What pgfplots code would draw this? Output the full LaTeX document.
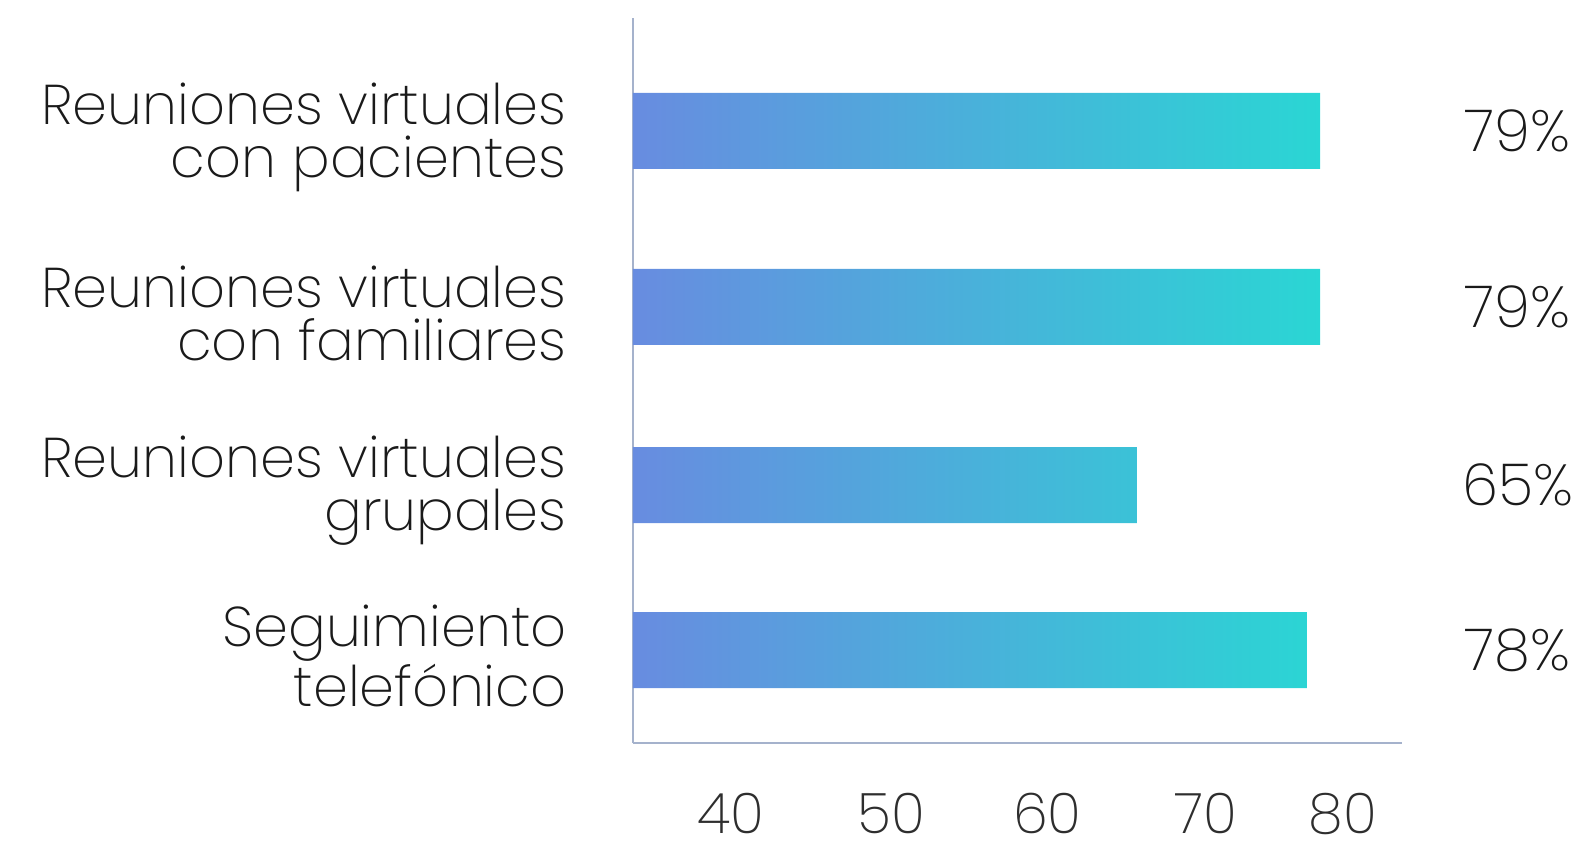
\documentclass[border=0pt]{standalone}
\usepackage{fontspec}
\setmainfont{Poppins}[UprightFont=* ExtraLight]
\usepackage{pgfplots}
\pgfplotsset{compat=1.18}
\definecolor{barleft}{HTML}{688CE0}
\definecolor{barright}{HTML}{2AD6D4}
\definecolor{axisgray}{HTML}{A5B2CC}
\definecolor{labeltext}{HTML}{1A1A1A}
\definecolor{ticktext}{HTML}{2E2E2E}

\begin{document}
\begin{tikzpicture}
\useasboundingbox (-316.5pt,-49pt) rectangle (475.5pt,371.5pt);
\begin{axis}[
  at={(0,0)}, anchor=south west,
  scale only axis,
  width=384.5pt, height=362.5pt,
  % shift the x axis so that bars start at the left edge
  x coord trafo/.code={\pgfmathparse{#1-26.51}},
  x coord inv trafo/.code={\pgfmathparse{#1+26.51}},
  xmin=26.51, xmax=85.26,
  ymin=0, ymax=7.25,
  axis x line*=bottom, axis y line*=left,
  axis line style={-, axisgray, line width=1pt},
  xtick={33.99,46.26,58.17,70.25,80.75},
  xticklabels={40,50,60,70,80},
  ytick={0.93,2.58,4.36,6.12},
  yticklabels={{Seguimiento\\telefónico},
               {Reuniones virtuales\\grupales},
               {Reuniones virtuales\\con familiares},
               {Reuniones virtuales\\con pacientes}},
  major tick length=0pt,
  xticklabel style={font=\fontsize{28}{28}\selectfont, text=ticktext,
    inner sep=0pt, anchor=north, yshift=-25pt},
  yticklabel style={font=\fontsize{28}{26.5}\selectfont, text=labeltext,
    align=right, inner sep=0pt, anchor=east, xshift=-33pt, yshift=-3pt},
  /pgf/number format/assume math mode=true,
  clip mode=individual,
]

\addplot[xbar, bar width=0.76, draw=none,
  left color=barleft, right color=barright]
  coordinates {(78,0.93) (65,2.58) (79,4.36) (79,6.12)};

% value labels in a column right of the plot
\node[font=\fontsize{29}{29}\selectfont, text=labeltext] at (axis cs:94.1,6.12) {79\%};
\node[font=\fontsize{29}{29}\selectfont, text=labeltext] at (axis cs:94.1,4.36) {79\%};
\node[font=\fontsize{29}{29}\selectfont, text=labeltext] at (axis cs:94.1,2.58) {65\%};
\node[font=\fontsize{29}{29}\selectfont, text=labeltext] at (axis cs:94.1,0.93) {78\%};

\end{axis}
\end{tikzpicture}
\end{document}
